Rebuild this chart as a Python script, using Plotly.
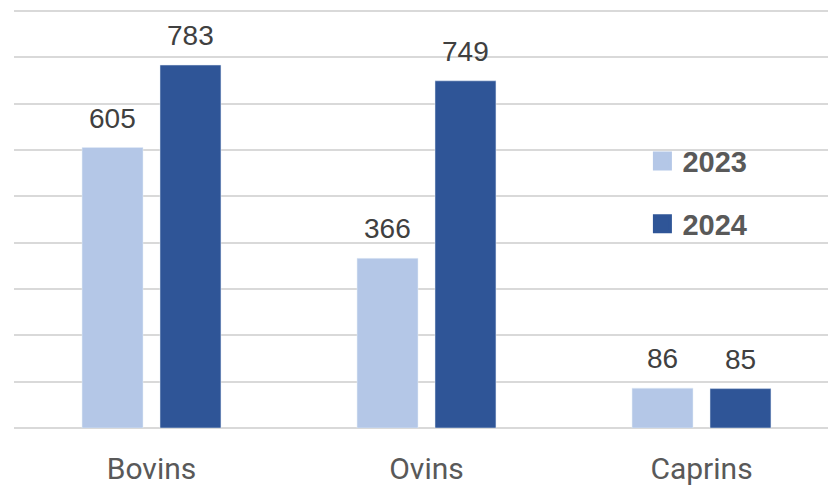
import plotly.graph_objects as go

categories = ["Bovins", "Ovins", "Caprins"]
values_2023 = [605, 366, 86]
values_2024 = [783, 749, 85]
series_names = ["2023", "2024"]
colors = ["#b4c7e7", "#2f5597"]

fig = go.Figure()
for name, vals, col in zip(series_names, [values_2023, values_2024], colors):
    fig.add_trace(go.Bar(x=categories, y=vals, name=name, marker_color=col,
                         showlegend=False, hoverinfo="skip"))
for name, col in zip(series_names, colors):
    fig.add_trace(go.Scatter(x=[None], y=[None], mode="markers", name=name,
                             legendgroup=name,
                             marker=dict(symbol="square", size=16, color=col,
                                         line=dict(width=3, color=col))))

label_font = dict(family="Liberation Sans, Arial, sans-serif", size=28, color="#404040")
for shift, vals in zip([-39, 39], [values_2023, values_2024]):
    for c, v in zip(categories, vals):
        fig.add_annotation(x=c, y=v, text=str(v), showarrow=False, xshift=shift,
                           yanchor="bottom", yshift=12, font=label_font)

fig.update_layout(
    width=828, height=486,
    margin=dict(l=14, r=0, t=2, b=58, autoexpand=False),
    paper_bgcolor="white", plot_bgcolor="white",
    barmode="group", bargap=0.433, bargroupgap=0.218,
    legend=dict(x=0.772, y=0.686, xanchor="left", yanchor="top",
                traceorder="grouped", tracegroupgap=22,
                font=dict(family="Liberation Sans, Arial, sans-serif", size=29,
                          color="#595959", weight="bold"),
                bgcolor="rgba(0,0,0,0)"),
    xaxis=dict(range=[-0.5, 2.46], showgrid=False, zeroline=False, showline=False,
               ticks="", ticklabelstandoff=20, automargin=False,
               tickfont=dict(family="Liberation Sans Narrow, Roboto, sans-serif",
                             size=30, color="#595959")),
    yaxis=dict(range=[0, 919], tickvals=list(range(0, 1000, 100)),
               showticklabels=False, showgrid=True, automargin=False,
               gridcolor="#d9d9d9", gridwidth=1.5, zeroline=True,
               zerolinecolor="#d9d9d9", zerolinewidth=1.5, fixedrange=True),
)

fig.write_html("out.html", config={"displayModeBar": False},
               post_script="document.body.style.margin='0';")
